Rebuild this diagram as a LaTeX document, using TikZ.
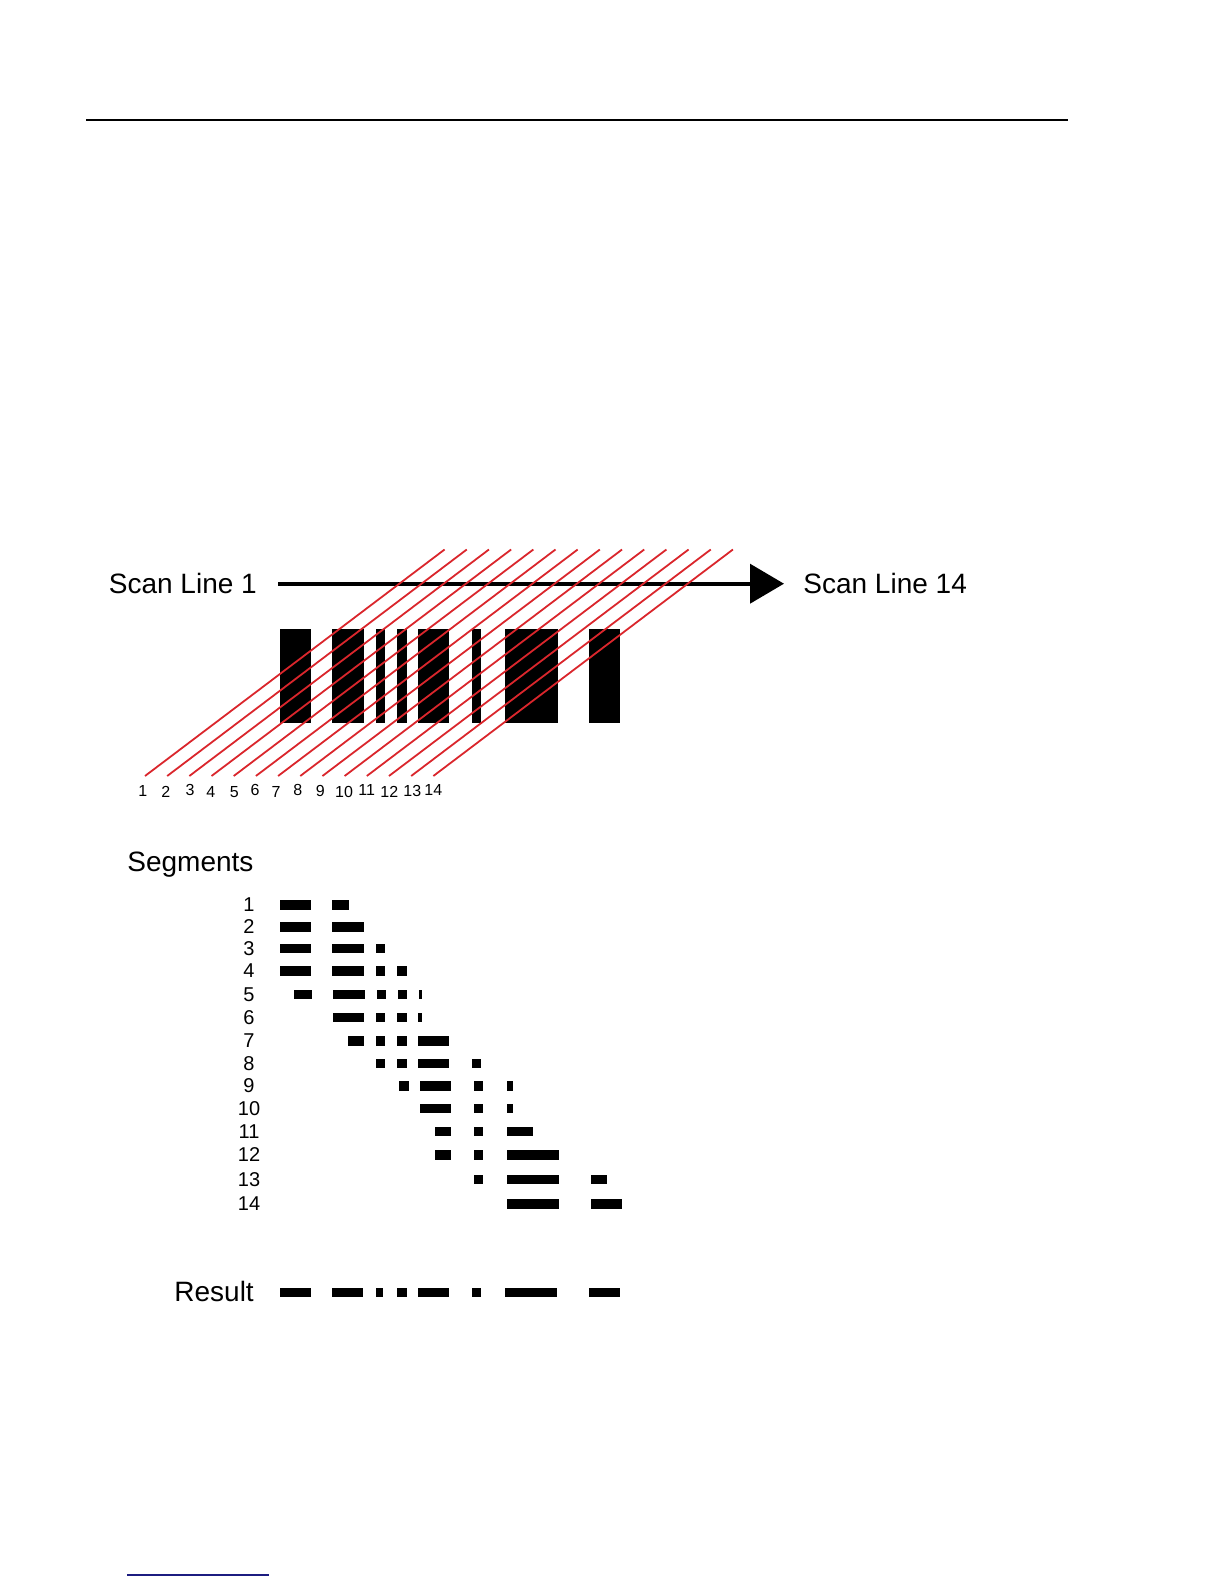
\documentclass[tikz,border=0pt]{standalone}
\usepackage{fontspec}
\setmainfont{Liberation Sans}
\usetikzlibrary{arrows.meta}
\definecolor{scanred}{RGB}{218,38,44}
\definecolor{navyline}{RGB}{28,28,128}
\tikzset{
  biglabel/.style={inner sep=0pt, font=\fontsize{14}{16}\selectfont},
  numlabel/.style={inner sep=0pt, font=\fontsize{8}{9}\selectfont},
  rowlabel/.style={inner sep=0pt, font=\fontsize{10}{12}\selectfont},
  scanline/.style={draw=scanred, line width=0.9pt},
  barfill/.style={fill=black},
}
\begin{document}
\begin{tikzpicture}[x=0.5pt,y=-0.5pt]
\useasboundingbox (0,0) rectangle (1224,1584);
% top rule
\coordinate (ruleL) at (86,120);
\coordinate (ruleR) at (1068,120);
\draw[line width=0.75pt] (ruleL) -- (ruleR);
% bottom blue rule
\coordinate (blueL) at (127,1575);
\coordinate (blueR) at (269,1575);
\draw[navyline, line width=0.7pt] (blueL) -- (blueR);

% labels
\node[biglabel, anchor=base west] (sl1) at (108.5,593) {Scan Line 1};
\node[biglabel, anchor=base west] (sl14) at (803,593) {Scan Line 14};
\coordinate (arrowstart) at (278,583.7);
\coordinate (arrowtip) at (784,583.7);
\draw[line width=2pt, -{Triangle[length=17pt,width=19.5pt]}] (arrowstart) -- (arrowtip);

% barcode bars
\foreach \a/\b in {280/310.7,332/364,376/385,397/406.7,418/449,472/481,505/557.7,589/620}
  \fill[barfill] (\a,629.3) rectangle (\b,723.3);

% red scan lines
\foreach \i in {0,...,13} {
  \pgfmathsetmacro\bx{145+22.18*\i}
  \coordinate (sb\i) at (\bx,776);
  \coordinate (st\i) at (\bx+299.6,549.5);
  \draw[scanline] (sb\i) -- (st\i);
}

% scan line numbers
\foreach \n/\x/\y in {1/142.7/791,2/165.7/792,3/190/790,4/210.7/792,5/234.3/792,6/255/790,7/276/792,8/297.7/790,9/320.3/791,10/344/792,11/366.7/790,12/389.3/792,13/412.3/791,14/433.3/790}
  \node[numlabel] (n\n) at (\x,\y) {\n};

% Segments
\node[biglabel, anchor=base west] (seglabel) at (127,871.5) {Segments};
\foreach \r/\y/\segs in {
  1/905/{280/310.7,332/348.7},
  2/927/{280/310.7,332/363.7},
  3/948.7/{280/310.7,332/363.7,376/384.7},
  4/971/{280/310.7,332/363.7,376/384.7,397/407},
  5/994.5/{294/311.7,333/365,377/385.7,398/407,419/422.3},
  6/1017.5/{333/364,376/384.7,397/407,418/422},
  7/1041/{348/364,376/384.7,397/407,418/449.3},
  8/1063.7/{376/384.7,397/407,418/449,472/481},
  9/1086/{399/409,420/450.7,474/483,507/513},
  10/1108.7/{420/450.7,474/483,507/513},
  11/1131.5/{435/450.7,474/483,507/533.3},
  12/1155/{435/450.7,474/483,507/559},
  13/1179.5/{474/483,507/559,591/607},
  14/1204/{507/559,591/622}} {
  \node[rowlabel] (row\r) at (249,\y) {\r};
  \foreach \a/\b in \segs
    \fill[barfill] (\a,\y-4.75) rectangle (\b,\y+4.75);
}

% Result
\node[biglabel, anchor=base west] (reslabel) at (174,1301) {Result};
\foreach \a/\b in {280/310.7,332/363.3,376/383,397.3/406.7,417.7/448.7,472.3/480.7,505/557.3,589/620}
  \fill[barfill] (\a,1288) rectangle (\b,1297.3);
\end{tikzpicture}
\end{document}
